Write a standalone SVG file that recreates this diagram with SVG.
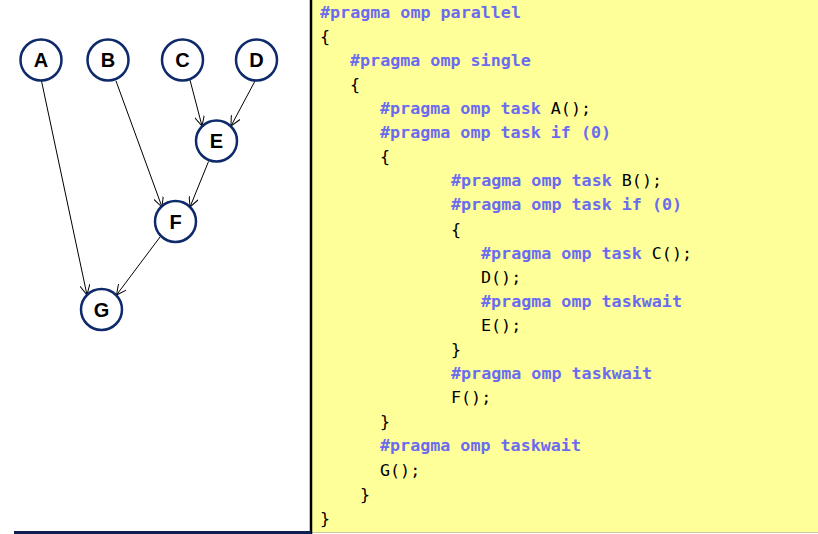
<svg xmlns="http://www.w3.org/2000/svg" width="818" height="534" viewBox="0 0 818 534">
<defs>
<style>
.node circle{fill:#fff;stroke:#0e2a6a;stroke-width:2.5}
.node text{font-family:"Liberation Sans",Arial,sans-serif;font-weight:bold;font-size:20px;fill:#000;text-anchor:middle}
.edge{stroke:#000;stroke-width:1;fill:none;marker-end:url(#arr)}
.code{font-family:"DejaVu Sans Mono",monospace;font-size:16.7px;fill:#000;white-space:pre}
.p{font-weight:bold;fill:#6b6bf0}
</style>
<marker id="arr" viewBox="0 0 10 10" refX="10" refY="5" markerWidth="10" markerHeight="10" markerUnits="userSpaceOnUse" orient="auto">
<path d="M0,0 L10,5 L0,10" fill="none" stroke="#000" stroke-width="1"/>
</marker>
</defs>
<rect x="0" y="0" width="818" height="534" fill="#fff"/>
<rect x="312" y="0" width="506" height="532" fill="#ffff99"/>
<line x1="312" y1="532.5" x2="818" y2="532.5" stroke="#c8c8a0" stroke-width="1"/>
<line x1="311" y1="0" x2="311" y2="534" stroke="#000" stroke-width="2.5"/>
<rect x="14" y="531" width="297" height="3" fill="#0e2050"/>
<g id="connectors">
<line class="edge" x1="41.5" y1="81" x2="87" y2="295"/>
<line class="edge" x1="116" y1="81" x2="162" y2="207"/>
<line class="edge" x1="190" y1="80" x2="202" y2="126"/>
<line class="edge" x1="255" y1="81" x2="231" y2="126"/>
<line class="edge" x1="208.5" y1="161.5" x2="190" y2="207"/>
<line class="edge" x1="160" y1="237" x2="116.5" y2="295"/>
</g>
<g id="A" class="node"><circle cx="41" cy="60" r="20.5"/><text x="41" y="67">A</text></g>
<g id="B" class="node"><circle cx="108" cy="60" r="20.5"/><text x="108" y="67">B</text></g>
<g id="C" class="node"><circle cx="182.5" cy="60" r="20.5"/><text x="182.5" y="67">C</text></g>
<g id="D" class="node"><circle cx="256.5" cy="60" r="20.5"/><text x="256.5" y="67">D</text></g>
<g id="E" class="node"><circle cx="216.5" cy="141" r="20.5"/><text x="216.5" y="148">E</text></g>
<g id="F" class="node"><circle cx="175.5" cy="221.5" r="20.5"/><text x="175.5" y="228.5">F</text></g>
<g id="G" class="node"><circle cx="101.5" cy="309.5" r="20.5"/><text x="101.5" y="316.5">G</text></g>
<g id="code" class="code">
<text x="320" y="17.6" class="p">#pragma omp parallel</text>
<text x="320" y="41.7">{</text>
<text x="350" y="65.8" class="p">#pragma omp single</text>
<text x="350" y="89.9">{</text>
<text x="380" y="114"><tspan class="p">#pragma omp task</tspan> A();</text>
<text x="380" y="138.1" class="p">#pragma omp task if (0)</text>
<text x="380" y="162.2">{</text>
<text x="451" y="186.3"><tspan class="p">#pragma omp task</tspan> B();</text>
<text x="451" y="210.4" class="p">#pragma omp task if (0)</text>
<text x="451" y="234.5">{</text>
<text x="481" y="258.6"><tspan class="p">#pragma omp task</tspan> C();</text>
<text x="481" y="282.7">D();</text>
<text x="481" y="306.8" class="p">#pragma omp taskwait</text>
<text x="481" y="330.9">E();</text>
<text x="451" y="355">}</text>
<text x="451" y="379.1" class="p">#pragma omp taskwait</text>
<text x="451" y="403.2">F();</text>
<text x="380" y="427.3">}</text>
<text x="380" y="451.4" class="p">#pragma omp taskwait</text>
<text x="380" y="475.5">G();</text>
<text x="360" y="499.6">}</text>
<text x="320" y="523.7">}</text>
</g>
</svg>
